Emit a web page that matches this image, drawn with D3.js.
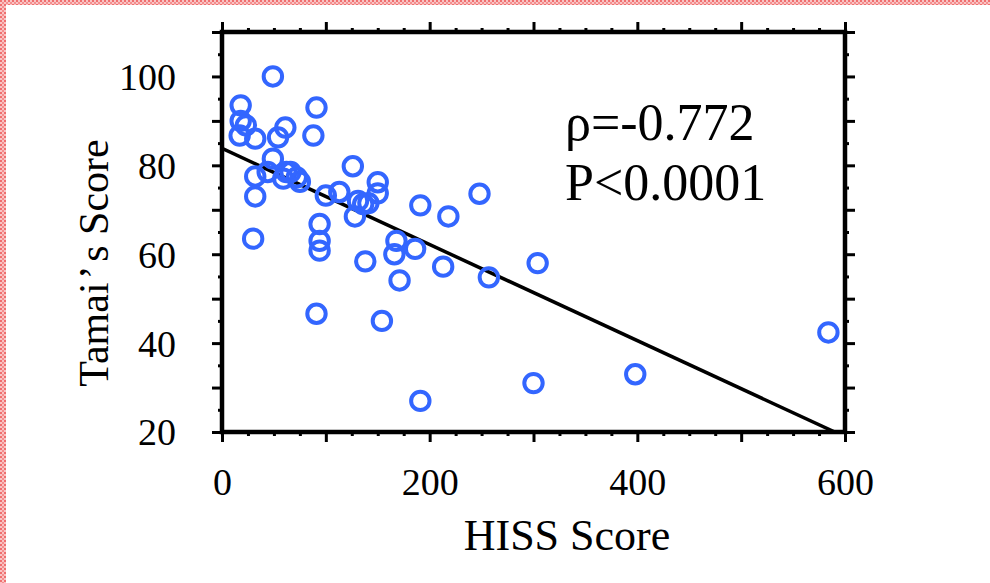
<!DOCTYPE html>
<html>
<head>
<meta charset="utf-8">
<script src="https://cdn.jsdelivr.net/npm/d3@7/dist/d3.min.js"></script>
<style>
  html, body { margin: 0; padding: 0; background: #fff; }
  svg { display: block; }
  text { font-family: "Liberation Serif", "DejaVu Serif", serif; fill: #000; }
</style>
</head>
<body>
<svg id="chart" width="990" height="583"></svg>
<script>
// ---- data ----
const hissScore = [49, 18, 91, 18, 23, 61, 17, 32, 54, 88,
                   49, 126, 32, 44, 62, 72, 59, 75, 150, 150,
                   100, 113, 32, 136, 128, 141, 191, 218, 248, 94,
                   94, 94, 30, 168, 166, 186, 138, 213, 171, 257,
                   304, 91, 154, 191, 300, 398, 584, 131, 66];
const tamaiScore = [100, 93.5, 93, 90, 89, 88.5, 86.7, 86, 86.3, 86.7,
                    81.5, 79.8, 77.5, 78.5, 78.5, 77.3, 77, 76.3, 76.2, 73.7,
                    73.2, 74, 73, 71.3, 68.5, 71.5, 71, 68.5, 73.6, 66.8,
                    63, 60.8, 63.5, 63, 60, 61.2, 58.4, 57.2, 54.1, 54.8,
                    58, 46.6, 45, 27, 31, 33, 42.4, 72, 78.5];
const fitIntercept = 83.8;
const fitSlope = -0.1081;
const xDomain = [0, 600];
const yDomain = [20, 110];
const xLabelTicks = [0, 200, 400, 600];
const yLabelTicks = [20, 40, 60, 80, 100];
const statLines = ["\u03C1=-0.772", "P<0.0001"];
const xTitle = "HISS Score";
const yTitleParts = ["Tamai", "\u2019", "s Score"];

(function () {
// ---- layout ----
const svg = d3.select("#chart");
const pL = 222, pR = 845, pT = 32, pB = 432;
const x = d3.scaleLinear().domain(xDomain).range([pL, pR]);
const y = d3.scaleLinear().domain(yDomain).range([pB, pT]);

// red hatched border (top and left edges)
const defs = svg.append("defs");
const pat = defs.append("pattern").attr("id", "hatch").attr("width", 4).attr("height", 4)
  .attr("patternUnits", "userSpaceOnUse");
pat.append("rect").attr("width", 4).attr("height", 4).attr("fill", "#f9c4c4");
pat.append("rect").attr("width", 2).attr("height", 2).attr("fill", "#ef6f6f");
pat.append("rect").attr("x", 2).attr("y", 2).attr("width", 2).attr("height", 2).attr("fill", "#f48e8e");
svg.append("rect").attr("x", 0).attr("y", 0).attr("width", 990).attr("height", 5).attr("fill", "url(#hatch)");
svg.append("rect").attr("x", 0).attr("y", 0).attr("width", 6).attr("height", 583).attr("fill", "url(#hatch)");

// axes ticks (major & minor on all four sides, outward)
function styleAxis(g) {
  g.select(".domain").remove();
  g.selectAll(".tick line").attr("stroke", "#000").attr("stroke-width", 3);
}
const noLabel = () => "";
const major = 10, minor = 4;
const xMajor = d3.range(0, 601, 100), xMinor = d3.range(0, 601, 25).filter(v => v % 100);
const yMajor = d3.range(20, 111, 10), yMinor = d3.range(25, 111, 10);

svg.append("g").attr("transform", `translate(0,${pB})`)
  .call(d3.axisBottom(x).tickValues(xMinor).tickSize(minor).tickFormat(noLabel)).call(styleAxis);
svg.append("g").attr("transform", `translate(0,${pT})`)
  .call(d3.axisTop(x).tickValues(xMinor).tickSize(minor).tickFormat(noLabel)).call(styleAxis);
svg.append("g").attr("transform", `translate(0,${pT})`)
  .call(d3.axisTop(x).tickValues(xMajor).tickSize(major).tickFormat(noLabel)).call(styleAxis);
const xAx = svg.append("g").attr("transform", `translate(0,${pB})`)
  .call(d3.axisBottom(x).tickValues(xMajor).tickSize(major)
    .tickFormat(d => xLabelTicks.includes(d) ? d : "")).call(styleAxis);
xAx.selectAll(".tick text").attr("y", 63).attr("dy", null)
  .style("font-family", '"Liberation Serif", serif').style("font-size", "38px").attr("fill", "#000");

svg.append("g").attr("transform", `translate(${pL},0)`)
  .call(d3.axisLeft(y).tickValues(yMinor).tickSize(minor).tickFormat(noLabel)).call(styleAxis);
svg.append("g").attr("transform", `translate(${pR},0)`)
  .call(d3.axisRight(y).tickValues(yMinor).tickSize(minor).tickFormat(noLabel)).call(styleAxis);
svg.append("g").attr("transform", `translate(${pR},0)`)
  .call(d3.axisRight(y).tickValues(yMajor).tickSize(major).tickFormat(noLabel)).call(styleAxis);
const yAx = svg.append("g").attr("transform", `translate(${pL},0)`)
  .call(d3.axisLeft(y).tickValues(yMajor).tickSize(major)
    .tickFormat(d => yLabelTicks.includes(d) ? d : "")).call(styleAxis);
yAx.selectAll(".tick text").attr("x", -46).attr("dy", "0.34em")
  .style("font-family", '"Liberation Serif", serif').style("font-size", "38px").attr("fill", "#000");

// frame
svg.append("rect").attr("x", pL).attr("y", pT).attr("width", pR - pL).attr("height", pB - pT)
  .attr("fill", "none").attr("stroke", "#000").attr("stroke-width", 4.5);

// clip
defs.append("clipPath").attr("id", "plotclip").append("rect")
  .attr("x", pL).attr("y", pT).attr("width", pR - pL).attr("height", pB - pT);

// regression line
const xEnd = (yDomain[0] - fitIntercept) / fitSlope;
const fitPts = [[xDomain[0], fitIntercept], [xEnd, yDomain[0]]];
svg.append("path").datum(fitPts)
  .attr("d", d3.line().x(d => x(d[0])).y(d => y(d[1])))
  .attr("fill", "none").attr("stroke", "#000").attr("stroke-width", 3.5)
  .attr("clip-path", "url(#plotclip)");

// points
const pts = hissScore.map((h, i) => ({ h, t: tamaiScore[i] }));
svg.append("g").selectAll("circle").data(pts).join("circle")
  .attr("cx", d => x(d.h)).attr("cy", d => y(d.t)).attr("r", 9.2)
  .attr("fill", "none").attr("stroke", "#3366ff").attr("stroke-width", 4);

// stats text
svg.append("text").attr("x", 565).attr("y", 140).style("font-size", "52px").text(statLines[0]);
svg.append("text").attr("x", 565).attr("y", 200).style("font-size", "52px").text(statLines[1]);

// axis titles
svg.append("text").attr("x", 567).attr("y", 550).attr("text-anchor", "middle")
  .style("font-size", "44px").text(xTitle);
const yt = svg.append("text").attr("transform", "translate(108,263) rotate(-90)")
  .attr("text-anchor", "middle").style("font-size", "42px");
yt.append("tspan").text(yTitleParts[0]);
yt.append("tspan").attr("dx", 3).text(yTitleParts[1]);
yt.append("tspan").attr("dx", 6).text(yTitleParts[2]);
})();
</script>
</body>
</html>
